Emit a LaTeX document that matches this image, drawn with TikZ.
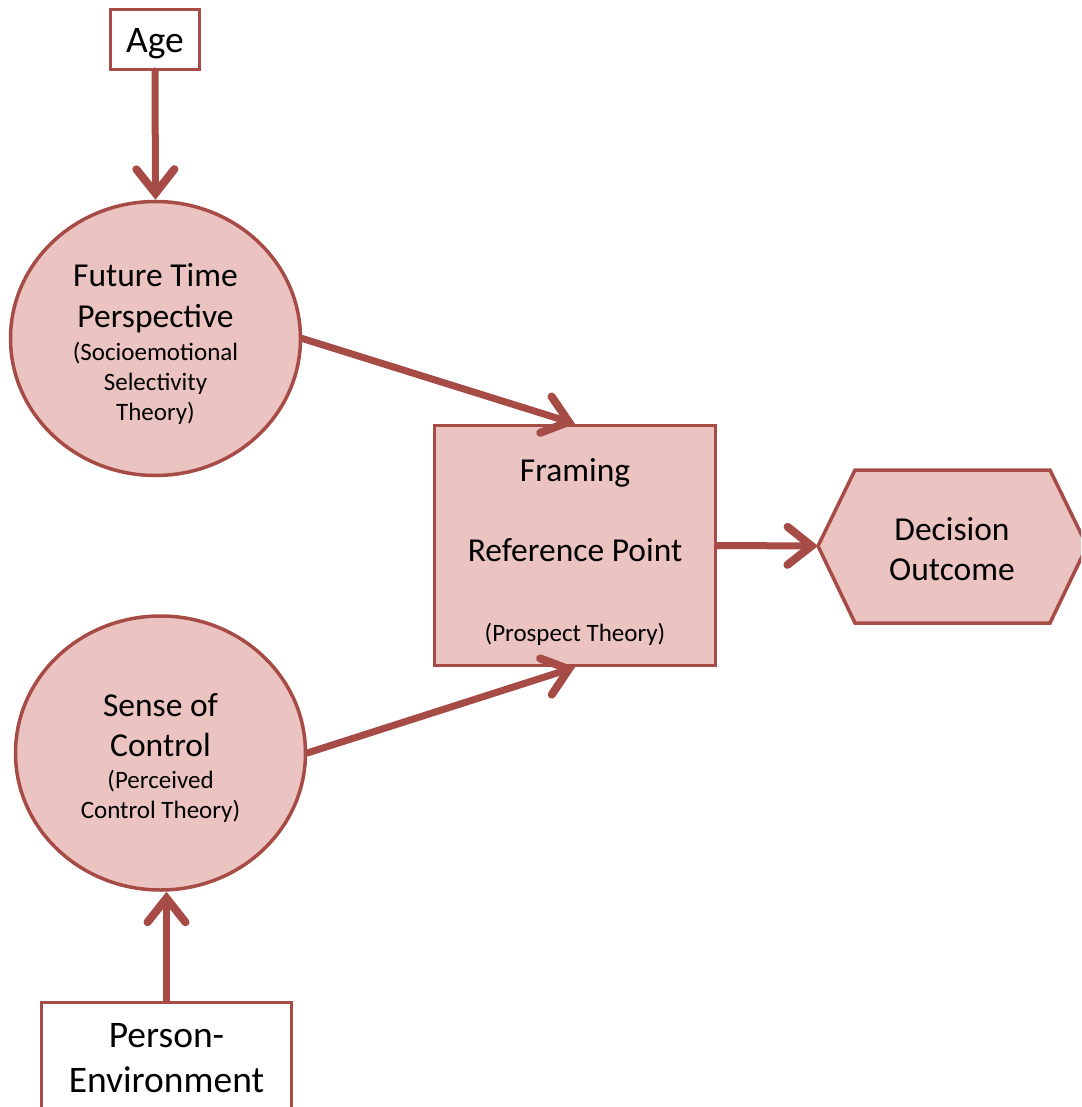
\documentclass[tikz,border=0pt]{standalone}
\usepackage{fontspec}
\setmainfont{Carlito}
\usetikzlibrary{arrows.meta,shapes.geometric}
\definecolor{edgecol}{HTML}{A64B45}
\definecolor{pinkfill}{HTML}{EBC3C0}
\begin{document}
\begin{tikzpicture}[x=1pt,y=-1pt,
  bigtext/.style={font=\fontsize{37.5}{44}\selectfont, inner sep=0pt, anchor=base},
  maintext/.style={font=\fontsize{33.5}{40}\selectfont, inner sep=0pt, anchor=base},
  smalltext/.style={font=\fontsize{25}{30}\selectfont, inner sep=0pt, anchor=base},
  whitebox/.style={rectangle, draw=edgecol, fill=white, line width=3pt, inner sep=0pt},
  bubble/.style={ellipse, draw=edgecol, fill=pinkfill, line width=3.5pt, inner sep=0pt, minimum width=290pt, minimum height=274pt},
  pinkbox/.style={rectangle, draw=edgecol, fill=pinkfill, line width=3.5pt, inner sep=0pt},
  link/.style={draw=edgecol, line width=7pt, line cap=round, -{Straight Barb[length=24pt,width=38pt,line cap=round,line width=0pt 1.15]}}
]
\useasboundingbox (0,0) rectangle (1081,1107);
\clip (0,0) rectangle (1081,1107);

% Age box
\node[whitebox, minimum width=89pt, minimum height=60pt] (age) at (155,39.5) {};
\node[bigtext] (agetxt) at (155,53) {Age};

% Future time perspective ellipse
\node[bubble] (c1) at (155.5,338.5) {};
\node[maintext] (c1a) at (155.5,286.5) {Future Time};
\node[maintext] (c1b) at (155.5,327) {Perspective};
\node[smalltext] (c1c) at (155.5,360) {(Socioemotional};
\node[smalltext] (c1d) at (155.5,390) {Selectivity};
\node[smalltext] (c1e) at (155.5,420) {Theory)};

% Sense of control ellipse
\node[bubble] (c2) at (160.5,753) {};
\node[maintext] (c2a) at (160.5,716.5) {Sense of};
\node[maintext] (c2b) at (160.5,756.5) {Control};
\node[smalltext] (c2c) at (160.5,788) {(Perceived};
\node[smalltext] (c2d) at (160.5,818) {Control Theory)};

% Framing box
\node[pinkbox, minimum width=281pt, minimum height=240pt] (rect) at (575,545.5) {};
\node[maintext] (ra) at (575,481.5) {Framing};
\node[maintext] (rb) at (575,561.5) {Reference Point};
\node[smalltext] (rc) at (575,641.5) {(Prospect Theory)};

% Decision outcome hexagon
\coordinate (hexL) at (818,546);
\draw[edgecol, fill=pinkfill, line width=3.5pt, line join=miter]
  (hexL) -- (855,470) -- (1050,470) -- (1087,546) -- (1050,623) -- (855,623) -- cycle;
\node[maintext] (da) at (952,540) {Decision};
\node[maintext] (db) at (952,580) {Outcome};

% Person-Environment box
\node[whitebox, minimum width=250pt, minimum height=160pt] (pe) at (166.5,1082) {};
\node[bigtext] (pea) at (166.5,1047) {Person-};
\node[bigtext] (peb) at (166.5,1092) {Environment};

% connectors
\draw[link] (age.south) -- (c1.north);
\draw[link] (c1.east) -- (rect.north);
\draw[link] (c2.east) -- (rect.south);
\draw[link] (rect.east) -- (hexL);
\draw[link] (pe.north) -- (pe.north |- c2.south);
\end{tikzpicture}
\end{document}
